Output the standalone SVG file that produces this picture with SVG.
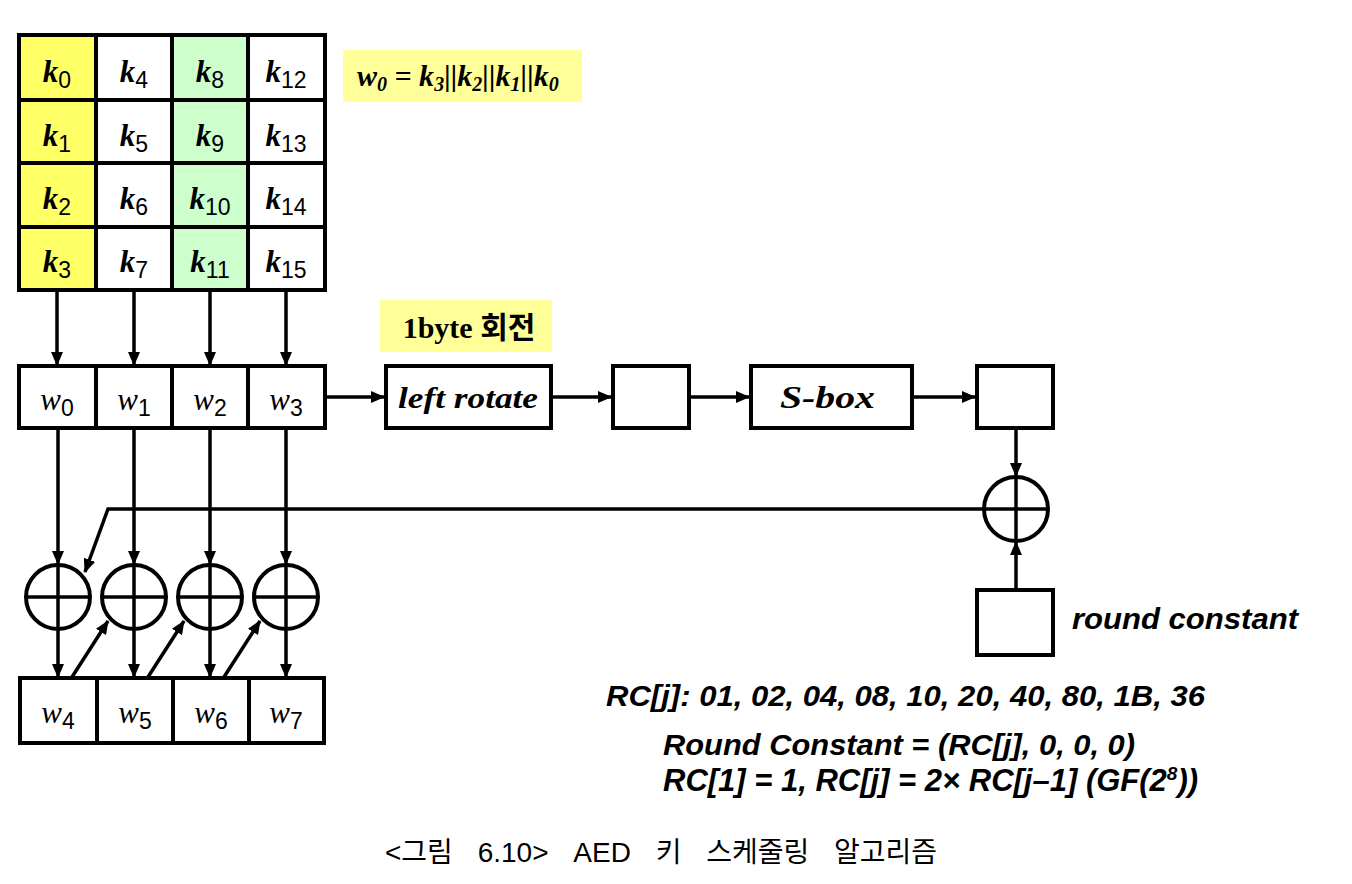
<svg xmlns="http://www.w3.org/2000/svg" width="1352" height="884" viewBox="0 0 1352 884">
<defs>
<style>
.box{fill:#ffffff;stroke:#000;stroke-width:4}
.yl{fill:#FFFF66;stroke:#000;stroke-width:4}
.gr{fill:#CCFFCC;stroke:#000;stroke-width:4}
.ln{stroke:#000;stroke-width:3.5;fill:none}
.arr{stroke:#000;stroke-width:3.5;fill:none;marker-end:url(#ah)}
.xor{fill:#fff;stroke:#000;stroke-width:4}
.k{font-family:"Liberation Serif",serif;font-weight:bold;font-style:italic;font-size:31px}
.w{font-family:"Liberation Serif",serif;font-style:italic;font-size:31px}
.sub{font-family:"Liberation Sans",sans-serif;font-size:23px;font-style:normal;font-weight:normal}
.lbl{font-family:"Liberation Serif",serif;font-weight:bold;font-style:italic;font-size:30px}
.note{font-family:"Liberation Sans",Arial,sans-serif;font-weight:bold;font-style:italic;font-size:29px}
</style>
<marker id="ah" markerWidth="14" markerHeight="12" refX="13" refY="6" orient="auto" markerUnits="userSpaceOnUse"><path d="M0,0 L14,6 L0,12 z" fill="#000"/></marker>
</defs>
<rect width="1352" height="884" fill="#fff"/>

<g id="key-grid">
<rect class="yl" x="19" y="35" width="77" height="65"/><rect class="box" x="96" y="35" width="76" height="65"/><rect class="gr" x="172" y="35" width="76" height="65"/><rect class="box" x="248" y="35" width="77" height="65"/>
<rect class="yl" x="19" y="100" width="77" height="63"/><rect class="box" x="96" y="100" width="76" height="63"/><rect class="gr" x="172" y="100" width="76" height="63"/><rect class="box" x="248" y="100" width="77" height="63"/>
<rect class="yl" x="19" y="163" width="77" height="64"/><rect class="box" x="96" y="163" width="76" height="64"/><rect class="gr" x="172" y="163" width="76" height="64"/><rect class="box" x="248" y="163" width="77" height="64"/>
<rect class="yl" x="19" y="227" width="77" height="63"/><rect class="box" x="96" y="227" width="76" height="63"/><rect class="gr" x="172" y="227" width="76" height="63"/><rect class="box" x="248" y="227" width="77" height="63"/>
<text x="57" y="82" text-anchor="middle"><tspan class="k">k</tspan><tspan class="sub" dy="6">0</tspan></text>
<text x="134" y="82" text-anchor="middle"><tspan class="k">k</tspan><tspan class="sub" dy="6">4</tspan></text>
<text x="210" y="82" text-anchor="middle"><tspan class="k">k</tspan><tspan class="sub" dy="6">8</tspan></text>
<text x="286" y="82" text-anchor="middle"><tspan class="k">k</tspan><tspan class="sub" dy="6">12</tspan></text>
<text x="57" y="146" text-anchor="middle"><tspan class="k">k</tspan><tspan class="sub" dy="6">1</tspan></text>
<text x="134" y="146" text-anchor="middle"><tspan class="k">k</tspan><tspan class="sub" dy="6">5</tspan></text>
<text x="210" y="146" text-anchor="middle"><tspan class="k">k</tspan><tspan class="sub" dy="6">9</tspan></text>
<text x="286" y="146" text-anchor="middle"><tspan class="k">k</tspan><tspan class="sub" dy="6">13</tspan></text>
<text x="57" y="209" text-anchor="middle"><tspan class="k">k</tspan><tspan class="sub" dy="6">2</tspan></text>
<text x="134" y="209" text-anchor="middle"><tspan class="k">k</tspan><tspan class="sub" dy="6">6</tspan></text>
<text x="210" y="209" text-anchor="middle"><tspan class="k">k</tspan><tspan class="sub" dy="6">10</tspan></text>
<text x="286" y="209" text-anchor="middle"><tspan class="k">k</tspan><tspan class="sub" dy="6">14</tspan></text>
<text x="57" y="272" text-anchor="middle"><tspan class="k">k</tspan><tspan class="sub" dy="6">3</tspan></text>
<text x="134" y="272" text-anchor="middle"><tspan class="k">k</tspan><tspan class="sub" dy="6">7</tspan></text>
<text x="210" y="272" text-anchor="middle"><tspan class="k">k</tspan><tspan class="sub" dy="6">11</tspan></text>
<text x="286" y="272" text-anchor="middle"><tspan class="k">k</tspan><tspan class="sub" dy="6">15</tspan></text>
</g>

<g id="formula">
<rect x="343" y="50" width="239" height="52" fill="#FFFF99"/>
<text x="357" y="86" font-family="Liberation Serif,serif" font-weight="bold" font-style="italic" font-size="30">w<tspan font-size="20" dy="5">0</tspan><tspan dy="-5"> = k</tspan><tspan font-size="20" dy="5">3</tspan><tspan dy="-5">||k</tspan><tspan font-size="20" dy="5">2</tspan><tspan dy="-5">||k</tspan><tspan font-size="20" dy="5">1</tspan><tspan dy="-5">||k</tspan><tspan font-size="20" dy="5">0</tspan></text>
</g>

<g id="rot-label">
<rect x="380" y="300" width="172" height="52" fill="#FFFF99"/>
<text x="469" y="338" text-anchor="middle" font-family="Liberation Serif,'Noto Sans CJK KR',serif" font-weight="bold" font-size="30">1byte 회전</text>
</g>

<g id="w-row">
<rect class="box" x="19" y="366" width="77" height="62"/><rect class="box" x="96" y="366" width="76" height="62"/><rect class="box" x="172" y="366" width="76" height="62"/><rect class="box" x="248" y="366" width="77" height="62"/>
<text x="57" y="410" text-anchor="middle"><tspan class="w">w</tspan><tspan class="sub" dy="6">0</tspan></text>
<text x="134" y="410" text-anchor="middle"><tspan class="w">w</tspan><tspan class="sub" dy="6">1</tspan></text>
<text x="210" y="410" text-anchor="middle"><tspan class="w">w</tspan><tspan class="sub" dy="6">2</tspan></text>
<text x="286" y="410" text-anchor="middle"><tspan class="w">w</tspan><tspan class="sub" dy="6">3</tspan></text>
</g>

<g id="left-rotate">
<rect class="box" x="386" y="366" width="165" height="62"/>
<text x="398" y="408" class="lbl" textLength="140" lengthAdjust="spacingAndGlyphs">left rotate</text>
</g>
<g id="box-a"><rect class="box" x="613" y="366" width="76" height="62"/></g>
<g id="sbox">
<rect class="box" x="751" y="366" width="161" height="62"/>
<text x="780" y="408" class="lbl" style="font-size:32px" textLength="95" lengthAdjust="spacingAndGlyphs">S-box</text>
</g>
<g id="box-b"><rect class="box" x="977" y="366" width="76" height="62"/></g>

<g id="xor-main">
<circle class="xor" cx="1016" cy="509" r="32"/>
<line class="ln" x1="984" y1="509" x2="1048" y2="509"/><line class="ln" x1="1016" y1="477" x2="1016" y2="541"/>
</g>
<g id="round-constant">
<rect class="box" x="977" y="590" width="76" height="65"/>
<text x="1072" y="629" class="note" style="font-size:30px" textLength="226" lengthAdjust="spacingAndGlyphs">round constant</text>
</g>

<g id="xor-row">
<circle class="xor" cx="58" cy="597" r="32"/><line class="ln" x1="26" y1="597" x2="90" y2="597"/><line class="ln" x1="58" y1="565" x2="58" y2="629"/>
<circle class="xor" cx="134" cy="597" r="32"/><line class="ln" x1="102" y1="597" x2="166" y2="597"/><line class="ln" x1="134" y1="565" x2="134" y2="629"/>
<circle class="xor" cx="210" cy="597" r="32"/><line class="ln" x1="178" y1="597" x2="242" y2="597"/><line class="ln" x1="210" y1="565" x2="210" y2="629"/>
<circle class="xor" cx="286" cy="597" r="32"/><line class="ln" x1="254" y1="597" x2="318" y2="597"/><line class="ln" x1="286" y1="565" x2="286" y2="629"/>
</g>

<g id="w4-row">
<rect class="box" x="20" y="678" width="77" height="65"/><rect class="box" x="97" y="678" width="76" height="65"/><rect class="box" x="173" y="678" width="76" height="65"/><rect class="box" x="249" y="678" width="75" height="65"/>
<text x="58" y="723" text-anchor="middle"><tspan class="w">w</tspan><tspan class="sub" dy="6">4</tspan></text>
<text x="135" y="723" text-anchor="middle"><tspan class="w">w</tspan><tspan class="sub" dy="6">5</tspan></text>
<text x="211" y="723" text-anchor="middle"><tspan class="w">w</tspan><tspan class="sub" dy="6">6</tspan></text>
<text x="286" y="723" text-anchor="middle"><tspan class="w">w</tspan><tspan class="sub" dy="6">7</tspan></text>
</g>

<g id="connectors">
<line class="arr" x1="57" y1="292" x2="57" y2="365"/>
<line class="arr" x1="134" y1="292" x2="134" y2="365"/>
<line class="arr" x1="210" y1="292" x2="210" y2="365"/>
<line class="arr" x1="286" y1="292" x2="286" y2="365"/>
<line class="arr" x1="327" y1="397" x2="384" y2="397"/>
<line class="arr" x1="553" y1="397" x2="611" y2="397"/>
<line class="arr" x1="691" y1="397" x2="749" y2="397"/>
<line class="arr" x1="914" y1="397" x2="975" y2="397"/>
<line class="arr" x1="1016" y1="430" x2="1016" y2="476"/>
<line class="arr" x1="1016" y1="588" x2="1016" y2="542"/>
<polyline class="arr" points="984,509 108,509 85,572"/>
<line class="arr" x1="58" y1="430" x2="58" y2="564"/>
<line class="arr" x1="134" y1="430" x2="134" y2="564"/>
<line class="arr" x1="210" y1="430" x2="210" y2="564"/>
<line class="arr" x1="286" y1="430" x2="286" y2="564"/>
<line class="arr" x1="58" y1="629" x2="58" y2="677"/>
<line class="arr" x1="134" y1="629" x2="134" y2="677"/>
<line class="arr" x1="210" y1="629" x2="210" y2="677"/>
<line class="arr" x1="286" y1="629" x2="286" y2="677"/>
<line class="arr" x1="72" y1="677" x2="108" y2="621"/>
<line class="arr" x1="148" y1="677" x2="184" y2="621"/>
<line class="arr" x1="224" y1="677" x2="260" y2="621"/>
</g>

<g id="notes">
<text x="606" y="706" class="note" textLength="599" lengthAdjust="spacingAndGlyphs">RC[j]: 01, 02, 04, 08, 10, 20, 40, 80, 1B, 36</text>
<text x="663" y="755" class="note" textLength="472" lengthAdjust="spacingAndGlyphs">Round Constant = (RC[j], 0, 0, 0)</text>
<text x="663" y="791" class="note" style="font-size:31px">RC[1] = 1, RC[j] = 2× RC[j–1] (GF(2<tspan style="font-size:19px" dy="-11">8</tspan><tspan dy="11">))</tspan></text>
</g>

<g id="caption">
<text x="385" y="862" font-family="Liberation Sans,'Noto Sans CJK KR',sans-serif" font-size="28" word-spacing="17">&lt;그림 6.10&gt; AED 키 스케줄링 알고리즘</text>
</g>
</svg>
